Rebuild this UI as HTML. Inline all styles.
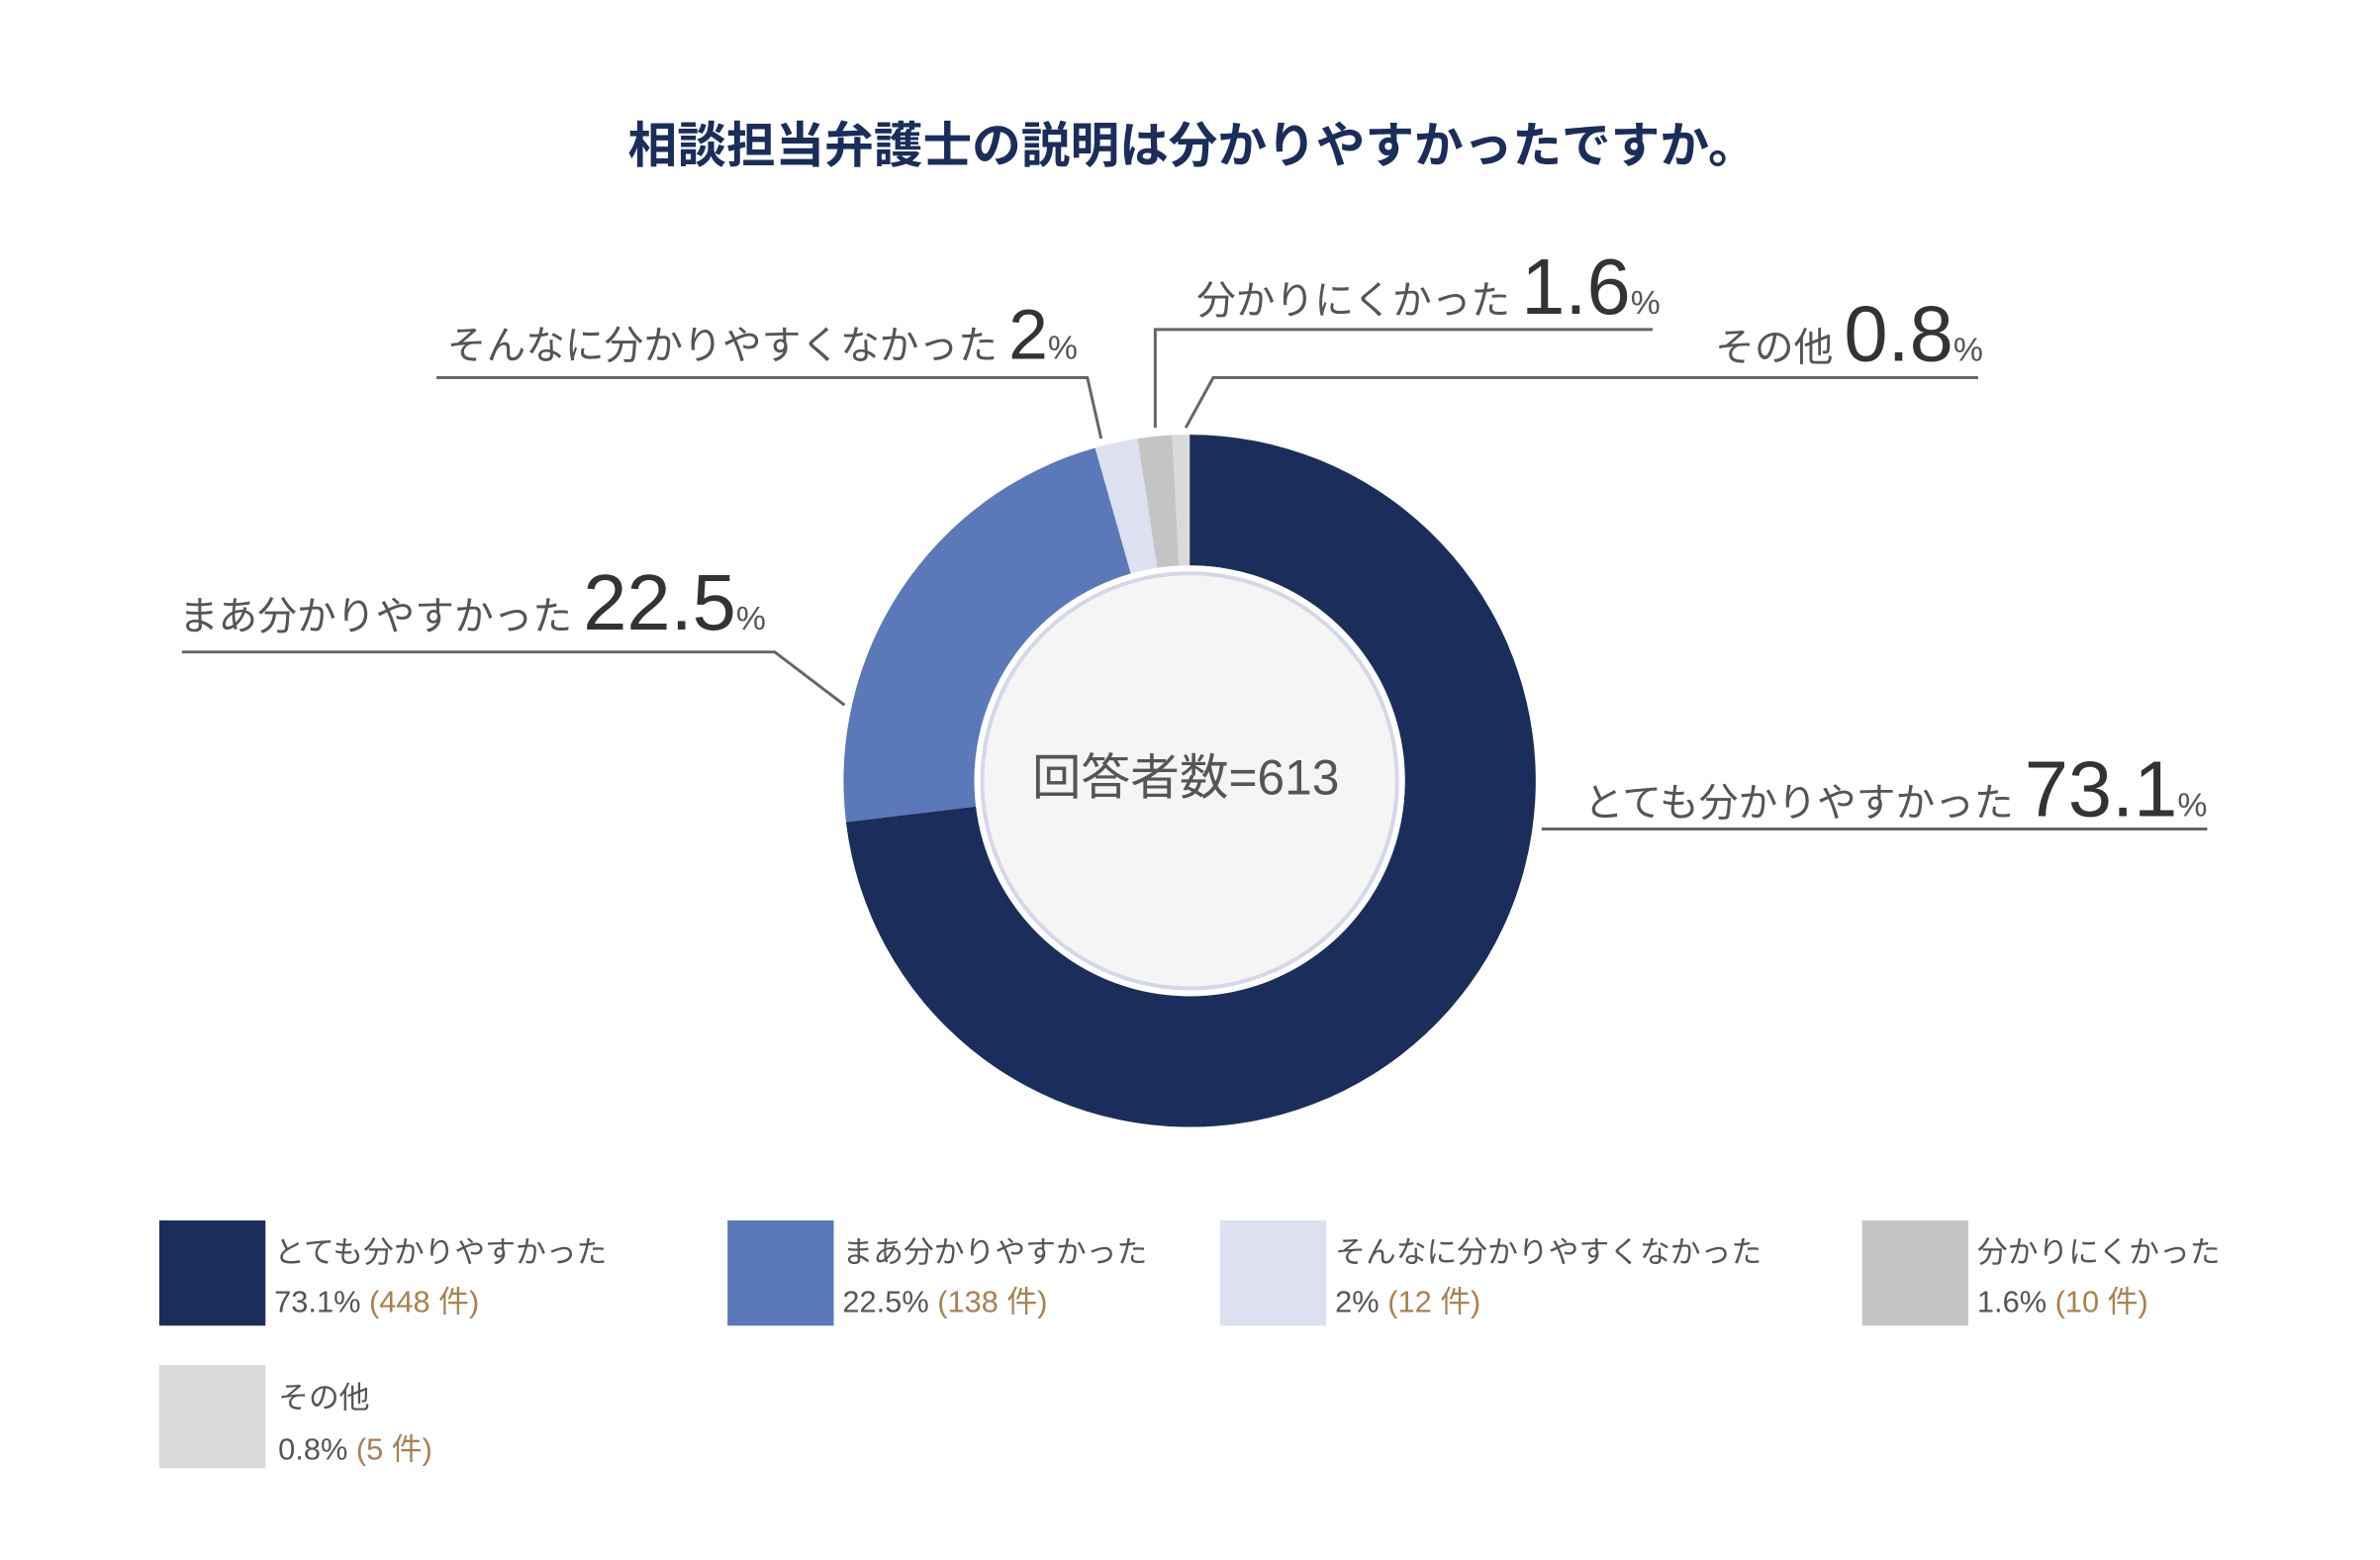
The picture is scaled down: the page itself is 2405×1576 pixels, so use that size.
<!DOCTYPE html>
<html><head><meta charset="utf-8"><style>
html,body{margin:0;padding:0;background:#fff;}
svg{display:block;}
text{font-family:"Liberation Sans","Noto Sans CJK JP",sans-serif;}
</style></head><body>
<svg width="2405" height="1576" viewBox="0 0 2405 1576" xmlns="http://www.w3.org/2000/svg">
<rect width="2405" height="1576" fill="#fff"/>
<g transform="scale(0.9935)">
<text x="1213" y="165" text-anchor="middle" font-size="50" font-weight="bold" fill="#1b2d5b">相談担当弁護士の説明は分かりやすかったですか。</text>

<path d="M1210,442 A352,352 0 1 1 860.5,835.9 L992.6,820.1 A219,219 0 1 0 1210,575 Z" fill="#1b2d5b"/>
<path d="M860.5,835.9 A352,352 0 0 1 1113.9,455.4 L1150.2,583.3 A219,219 0 0 0 992.6,820.1 Z" fill="#5b78b8"/>
<path d="M1113.9,455.4 A352,352 0 0 1 1157.1,446.0 L1177.1,577.5 A219,219 0 0 0 1150.2,583.3 Z" fill="#dde0f0"/>
<path d="M1157.1,446.0 A352,352 0 0 1 1192.3,442.4 L1199.0,575.3 A219,219 0 0 0 1177.1,577.5 Z" fill="#c4c4c4"/>
<path d="M1192.3,442.4 A352,352 0 0 1 1210,442 L1210,575 A219,219 0 0 0 1199.0,575.3 Z" fill="#dadada"/>
<circle cx="1210" cy="794" r="219" fill="#fff"/>
<circle cx="1210" cy="794" r="211" fill="#f5f5f5" stroke="#d3d7e8" stroke-width="4"/>
<text x="1206" y="808" text-anchor="middle" font-size="50" fill="#555">回答者数=613</text>

<g fill="none" stroke="#666" stroke-width="3">
<polyline points="1568,843 2245,843"/>
<polyline points="185,663 788,663 859,717"/>
<polyline points="444,384 1106,384 1120,446"/>
<polyline points="1175,435 1175,335 1681,335"/>
<polyline points="1206,435 1234,384 2012,384"/>
</g>

<g fill="#555">
<text x="2245" y="830" text-anchor="end"><tspan font-size="40">とても分かりやすかった </tspan><tspan font-size="80" fill="#333">73.1</tspan><tspan font-size="34">%</tspan></text>
<text x="182" y="640"><tspan font-size="40">まあ分かりやすかった </tspan><tspan font-size="80" fill="#333">22.5</tspan><tspan font-size="34">%</tspan></text>
<text x="1096" y="365" text-anchor="end"><tspan font-size="40">そんなに分かりやすくなかった </tspan><tspan font-size="72" fill="#333">2</tspan><tspan font-size="34">%</tspan></text>
<text x="1217" y="319"><tspan font-size="40">分かりにくかった </tspan><tspan font-size="80" fill="#333">1.6</tspan><tspan font-size="34">%</tspan></text>
<text x="2017" y="367" text-anchor="end"><tspan font-size="40">その他 </tspan><tspan font-size="80" fill="#333">0.8</tspan><tspan font-size="34">%</tspan></text>
</g>

<rect x="162" y="1241" width="108" height="107" fill="#1b2d5b"/>
<rect x="740" y="1241" width="108" height="107" fill="#5b78b8"/>
<rect x="1241" y="1241" width="108" height="107" fill="#dde0f0"/>
<rect x="1894" y="1241" width="108" height="107" fill="#c4c4c4"/>
<rect x="162" y="1388" width="108" height="105" fill="#dadada"/>

<g font-size="31" fill="#555">
<text x="279" y="1284">とても分かりやすかった</text>
<text x="279" y="1334">73.1% <tspan fill="#a8814f">(448 件)</tspan></text>
<text x="857" y="1284">まあ分かりやすかった</text>
<text x="857" y="1334">22.5% <tspan fill="#a8814f">(138 件)</tspan></text>
<text x="1358" y="1284">そんなに分かりやすくなかった</text>
<text x="1358" y="1334">2% <tspan fill="#a8814f">(12 件)</tspan></text>
<text x="2011" y="1284">分かりにくかった</text>
<text x="2011" y="1334">1.6% <tspan fill="#a8814f">(10 件)</tspan></text>
<text x="283" y="1432">その他</text>
<text x="283" y="1484">0.8% <tspan fill="#a8814f">(5 件)</tspan></text>
</g>
</g>
</svg>
</body></html>
